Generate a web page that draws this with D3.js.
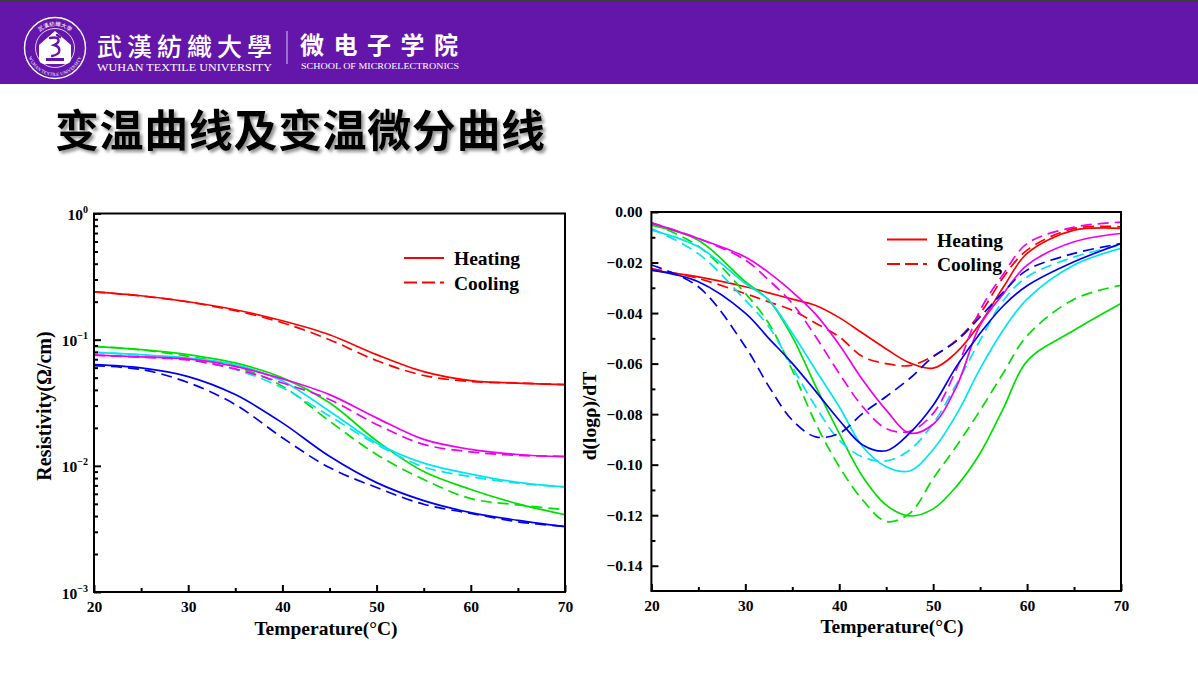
<!DOCTYPE html>
<html>
<head>
<meta charset="utf-8">
<title>变温曲线及变温微分曲线</title>
<script src="https://cdn.jsdelivr.net/npm/d3@7.9.0/dist/d3.min.js"></script>
<style>
  body { margin: 0; background: #fff; }
  svg { display: block; }
</style>
</head>
<body>
<svg id="slide" width="1198" height="674"></svg>
<script>
// values
const tempRho = [20, 25, 30, 35, 40, 45, 50, 55, 60, 65, 70];
const rhoRedHeat = [0.2394, 0.2228, 0.1998, 0.1726, 0.1413, 0.1095, 0.0761, 0.0558, 0.0474, 0.0453, 0.0441];
const rhoRedCool = [0.2394, 0.2220, 0.1990, 0.1695, 0.1363, 0.1000, 0.0683, 0.0520, 0.0466, 0.0453, 0.0441];
const rhoGreenHeat = [0.0885, 0.0834, 0.076, 0.0654, 0.0498, 0.0316, 0.0158, 0.0090, 0.0065, 0.0050, 0.0041];
const rhoGreenCool = [0.0885, 0.083, 0.0738, 0.0615, 0.0428, 0.0226, 0.0123, 0.0078, 0.0055, 0.0049, 0.0045];
const rhoCyanHeat = [0.0794, 0.076, 0.0716, 0.0634, 0.047, 0.0271, 0.0152, 0.0105, 0.0086, 0.0074, 0.0068];
const rhoCyanCool = [0.0794, 0.0755, 0.0695, 0.058, 0.0415, 0.0248, 0.0148, 0.0098, 0.0082, 0.0073, 0.0068];
const rhoMagentaHeat = [0.0755, 0.073, 0.0704, 0.0615, 0.0489, 0.0367, 0.024, 0.0162, 0.0135, 0.0123, 0.0118];
const rhoMagentaCool = [0.0755, 0.0725, 0.069, 0.0586, 0.0454, 0.0336, 0.0213, 0.0148, 0.0129, 0.0121, 0.0119];
const rhoBlueHeat = [0.0634, 0.0597, 0.0510, 0.0367, 0.0219, 0.0119, 0.00736, 0.0053, 0.00426, 0.0037, 0.0033];
const rhoBlueCool = [0.0622, 0.058, 0.0457, 0.0306, 0.0167, 0.00968, 0.00673, 0.00496, 0.0042, 0.0036, 0.0033];

const tempDer = [20, 25, 30, 32.5, 35, 37.5, 40, 42.5, 45, 47.5, 50, 52.5, 55, 57.5, 60, 65, 70];
const derRedHeat = [-0.023, -0.0257, -0.0296, -0.032, -0.0345, -0.0370, -0.0418, -0.0480, -0.0542, -0.0597, -0.0618, -0.0555, -0.0441, -0.0296, -0.0164, -0.0072, -0.0065];
const derRedCool = [-0.0224, -0.0263, -0.0323, -0.0356, -0.0389, -0.044, -0.0494, -0.0573, -0.0600, -0.0608, -0.057, -0.0507, -0.0402, -0.0257, -0.0151, -0.0065, -0.0059];
const derGreenHeat = [-0.0052, -0.0112, -0.0276, -0.0349, -0.0494, -0.069, -0.0876, -0.1048, -0.1160, -0.1203, -0.1175, -0.1085, -0.0955, -0.0775, -0.0590, -0.0468, -0.0362];
const derGreenCool = [-0.0045, -0.0135, -0.0322, -0.0441, -0.0626, -0.0837, -0.1008, -0.114, -0.1225, -0.1193, -0.1055, -0.0925, -0.0785, -0.0635, -0.0490, -0.0345, -0.029];
const derCyanHeat = [-0.0072, -0.0138, -0.0283, -0.0349, -0.048, -0.0626, -0.0771, -0.0929, -0.1008, -0.1025, -0.0940, -0.0800, -0.0620, -0.0465, -0.0345, -0.021, -0.0144];
const derCyanCool = [-0.0065, -0.0165, -0.0349, -0.0454, -0.0613, -0.0771, -0.0903, -0.097, -0.0985, -0.0942, -0.0837, -0.068, -0.0507, -0.0349, -0.0257, -0.0178, -0.0131];
const derMagentaHeat = [-0.0043, -0.0105, -0.0178, -0.024, -0.0316, -0.0405, -0.0525, -0.0665, -0.0784, -0.0875, -0.084, -0.069, -0.0448, -0.0322, -0.021, -0.0118, -0.0085];
const derMagentaCool = [-0.0043, -0.0105, -0.019, -0.027, -0.0362, -0.0494, -0.0639, -0.0771, -0.0857, -0.0868, -0.0797, -0.062, -0.0389, -0.0244, -0.0125, -0.006, -0.004];
const derBlueHeat = [-0.023, -0.0276, -0.040, -0.050, -0.0599, -0.071, -0.0824, -0.0922, -0.0945, -0.0875, -0.0765, -0.0610, -0.0480, -0.0370, -0.0292, -0.0197, -0.0125];
const derBlueCool = [-0.021, -0.0296, -0.0533, -0.069, -0.0824, -0.089, -0.0876, -0.0797, -0.073, -0.0659, -0.0573, -0.051, -0.0415, -0.0316, -0.023, -0.0164, -0.0125];

const tickTemps = [20, 30, 40, 50, 60, 70];
const minorTemps = [25, 35, 45, 55, 65];
const rhoDecades = [1e-3, 1e-2, 1e-1, 1];
const derTicks = [0, -0.02, -0.04, -0.06, -0.08, -0.10, -0.12, -0.14];
const derMinor = [-0.01, -0.03, -0.05, -0.07, -0.09, -0.11, -0.13];
const legendLabels = ["Heating", "Cooling"];

const seriesRho = [
  { color: "#ff0000", heat: rhoRedHeat, cool: rhoRedCool },
  { color: "#00e000", heat: rhoGreenHeat, cool: rhoGreenCool },
  { color: "#00e6f0", heat: rhoCyanHeat, cool: rhoCyanCool },
  { color: "#f000f0", heat: rhoMagentaHeat, cool: rhoMagentaCool },
  { color: "#0000f0", heat: rhoBlueHeat, cool: rhoBlueCool }
];
const seriesDer = [
  { color: "#ff0000", heat: derRedHeat, cool: derRedCool },
  { color: "#00e000", heat: derGreenHeat, cool: derGreenCool },
  { color: "#00e6f0", heat: derCyanHeat, cool: derCyanCool },
  { color: "#f000f0", heat: derMagentaHeat, cool: derMagentaCool },
  { color: "#0000f0", heat: derBlueHeat, cool: derBlueCool }
];

const W = 1198;
const serif = "'Liberation Serif', 'Times New Roman', serif";
const dash = "11,6";
const svg = d3.select("#slide");
const defs = svg.append("defs");

// ---------- header band ----------
svg.append("rect").attr("width", W).attr("height", 84).attr("fill", "#6415aa");
svg.append("rect").attr("width", W).attr("height", 1.5).attr("fill", "#3c3c3c");

let logo = svg.append("g").attr("transform", "translate(55,48)");
logo.append("circle").attr("r", 30.5).attr("fill", "none").attr("stroke", "#fff").attr("stroke-width", 1.4);
logo.append("circle").attr("r", 19.5).attr("fill", "none").attr("stroke", "#fff").attr("stroke-width", 0.8);
defs.append("path").attr("id", "ringTop").attr("d", "M -22,0 A 22,22 0 0 1 22,0");
defs.append("path").attr("id", "ringBot").attr("d", "M -27,0 A 27,27 0 0 0 27,0");
logo.append("text").attr("font-size", 5.5).attr("fill", "#fff").attr("font-family", "'Noto Sans CJK TC'")
  .append("textPath").attr("href", "#ringTop").attr("startOffset", "50%").attr("text-anchor", "middle")
  .text("武漢紡織大學");
logo.append("text").attr("font-size", 4.6).attr("fill", "#fff").attr("font-family", serif).attr("dy", 1)
  .append("textPath").attr("href", "#ringBot").attr("startOffset", "50%").attr("text-anchor", "middle")
  .text("WUHAN TEXTILE UNIVERSITY");
logo.append("path").attr("fill", "#fff")
  .attr("d", "M -16,-3 L 0,-17 L 16,-3 L 16,11 A 5,5 0 0 1 11,16 L -11,16 A 5,5 0 0 1 -16,11 Z");
logo.append("path").attr("fill", "none").attr("stroke", "#6415aa").attr("stroke-width", 2.4)
  .attr("stroke-linecap", "round")
  .attr("d", "M -5,-10 C 5,-12 6,-6 -1,-3 C 6,-1 7,6 -3,8 M 2,-13 L 5,-11");
logo.append("rect").attr("x", -9).attr("y", 10).attr("width", 18).attr("height", 3).attr("fill", "#6415aa");

svg.append("text").attr("x", 97).attr("y", 55.5).attr("fill", "#fff")
  .attr("font-family", "'Noto Sans CJK TC'").attr("font-size", 25).attr("font-weight", 500)
  .attr("textLength", 175).attr("lengthAdjust", "spacing").text("武漢紡織大學");
svg.append("text").attr("x", 97).attr("y", 71).attr("fill", "#fff")
  .attr("font-family", serif).attr("font-size", 10.5)
  .attr("textLength", 175).attr("lengthAdjust", "spacingAndGlyphs").text("WUHAN TEXTILE UNIVERSITY");
svg.append("line").attr("x1", 287).attr("x2", 287).attr("y1", 31).attr("y2", 64)
  .attr("stroke", "#d9c9f0").attr("stroke-width", 1);
svg.append("text").attr("x", 300).attr("y", 54).attr("fill", "#fff")
  .attr("font-family", "'Noto Sans CJK SC'").attr("font-size", 24).attr("font-weight", 700)
  .attr("textLength", 158).attr("lengthAdjust", "spacing").text("微电子学院");
svg.append("text").attr("x", 301).attr("y", 69).attr("fill", "#fff")
  .attr("font-family", serif).attr("font-size", 8.5)
  .attr("textLength", 158).attr("lengthAdjust", "spacingAndGlyphs").text("SCHOOL OF MICROELECTRONICS");

// ---------- slide title ----------
let shadow = defs.append("filter").attr("id", "shadow").attr("x", "-5%").attr("y", "-20%")
  .attr("width", "110%").attr("height", "140%");
shadow.append("feDropShadow").attr("dx", 2.5).attr("dy", 2.5).attr("stdDeviation", 1.5)
  .attr("flood-color", "#777").attr("flood-opacity", 0.8);
svg.append("text").attr("x", 55).attr("y", 147).attr("fill", "#000")
  .attr("font-family", "'Noto Sans CJK SC'").attr("font-size", 44).attr("font-weight", 700)
  .attr("textLength", 490).attr("lengthAdjust", "spacing").attr("filter", "url(#shadow)")
  .text("变温曲线及变温微分曲线");

// ---------- shared helpers ----------
function styleAxis(g) {
  g.select(".domain").remove();
  g.selectAll(".tick line").attr("stroke", "#000").attr("stroke-width", 2);
  g.selectAll(".tick text").attr("font-family", serif).attr("font-weight", "bold")
    .attr("font-size", 15.5).attr("fill", "#000");
}

function drawLegend(g, x, y) {
  legendLabels.forEach((label, i) => {
    let yy = y + i * 24.5;
    g.append("line").attr("x1", x).attr("x2", x + 40).attr("y1", yy).attr("y2", yy)
      .attr("stroke", "#ff0000").attr("stroke-width", 1.8)
      .attr("stroke-dasharray", i === 1 ? "13,5" : null);
    g.append("text").attr("x", x + 50).attr("y", yy + 7).attr("font-family", serif)
      .attr("font-weight", "bold").attr("font-size", 19.5).text(label);
  });
}

function drawCurves(g, list, temps, x, y, curve, clipId) {
  let line = d3.line().x((d, i) => x(temps[i])).y(d => y(d)).curve(curve);
  let lines = g.append("g").attr("clip-path", `url(#${clipId})`).attr("fill", "none");
  list.forEach(s => {
    lines.append("path").attr("d", line(s.cool)).attr("stroke", s.color)
      .attr("stroke-width", 1.7).attr("stroke-dasharray", dash);
    lines.append("path").attr("d", line(s.heat)).attr("stroke", s.color).attr("stroke-width", 1.7);
  });
}

// ---------- left chart: resistivity (log) ----------
const pL = { x0: 94, x1: 565, y0: 213.5, y1: 592 };
const xL = d3.scaleLinear().domain([20, 70]).range([pL.x0, pL.x1]);
const yL = d3.scaleLog().domain([1e-3, 1]).range([pL.y1, pL.y0]);
const minorRho = [];
[-3, -2, -1].forEach(p => { for (let k = 2; k <= 9; k++) minorRho.push(k * Math.pow(10, p)); });

defs.append("clipPath").attr("id", "clipL").append("rect")
  .attr("x", pL.x0).attr("y", pL.y0).attr("width", pL.x1 - pL.x0).attr("height", pL.y1 - pL.y0);

let gL = svg.append("g");
drawCurves(gL, seriesRho, tempRho, xL, yL, d3.curveCatmullRom.alpha(0.5), "clipL");

gL.append("g").attr("transform", `translate(0,${pL.y1})`)
  .call(d3.axisBottom(xL).tickValues(minorTemps).tickSize(-4).tickFormat(""))
  .call(styleAxis);
gL.append("g").attr("transform", `translate(0,${pL.y1})`)
  .call(d3.axisBottom(xL).tickValues(tickTemps).tickSize(-7).tickPadding(9).tickFormat(d3.format("d")))
  .call(styleAxis);
gL.append("g").attr("transform", `translate(${pL.x0},0)`)
  .call(d3.axisLeft(yL).tickValues(minorRho).tickSize(-4).tickFormat(""))
  .call(styleAxis);
let yAxL = gL.append("g").attr("transform", `translate(${pL.x0},0)`)
  .call(d3.axisLeft(yL).tickValues(rhoDecades).tickSize(-7).tickFormat(""))
  .call(styleAxis);
yAxL.selectAll(".tick").each(function (d) {
  let p = Math.round(Math.log10(d));
  let t = d3.select(this).append("text").attr("x", -6).attr("y", 6).attr("text-anchor", "end")
    .attr("font-family", serif).attr("font-weight", "bold").attr("fill", "#000");
  t.append("tspan").attr("font-size", 15.5).text("10");
  t.append("tspan").attr("font-size", 10).attr("dy", -7).text(p === 0 ? "0" : "\u2212" + Math.abs(p));
});

gL.append("rect").attr("x", pL.x0).attr("y", pL.y0).attr("width", pL.x1 - pL.x0)
  .attr("height", pL.y1 - pL.y0).attr("fill", "none").attr("stroke", "#000").attr("stroke-width", 2);
drawLegend(gL, 404, 258);

gL.append("text").attr("x", 326).attr("y", 635).attr("text-anchor", "middle")
  .attr("font-family", serif).attr("font-weight", "bold").attr("font-size", 19.5).text("Temperature(°C)");
gL.append("text").attr("transform", "translate(51,406) rotate(-90)").attr("text-anchor", "middle")
  .attr("font-family", serif).attr("font-weight", "bold").attr("font-size", 20).text("Resistivity(Ω/cm)");

// ---------- right chart: d(log rho)/dT ----------
const pR = { x0: 651.4, x1: 1121, y0: 212, y1: 591 };
const xR = d3.scaleLinear().domain([20, 70]).range([pR.x0, pR.x1]);
const yR = d3.scaleLinear().domain([-0.15, 0]).range([pR.y1, pR.y0]);

defs.append("clipPath").attr("id", "clipR").append("rect")
  .attr("x", pR.x0).attr("y", pR.y0).attr("width", pR.x1 - pR.x0).attr("height", pR.y1 - pR.y0);

let gR = svg.append("g");
drawCurves(gR, seriesDer, tempDer, xR, yR, d3.curveCatmullRom.alpha(0.5), "clipR");

gR.append("g").attr("transform", `translate(0,${pR.y1})`)
  .call(d3.axisBottom(xR).tickValues(minorTemps).tickSize(-4).tickFormat(""))
  .call(styleAxis);
gR.append("g").attr("transform", `translate(0,${pR.y1})`)
  .call(d3.axisBottom(xR).tickValues(tickTemps).tickSize(-7).tickPadding(9).tickFormat(d3.format("d")))
  .call(styleAxis);
gR.append("g").attr("transform", `translate(${pR.x0},0)`)
  .call(d3.axisLeft(yR).tickValues(derMinor).tickSize(-4).tickFormat(""))
  .call(styleAxis);
gR.append("g").attr("transform", `translate(${pR.x0},0)`)
  .call(d3.axisLeft(yR).tickValues(derTicks).tickSize(-7).tickPadding(9)
    .tickFormat(d => d === 0 ? "0.00" : "\u2212" + Math.abs(d).toFixed(2)))
  .call(styleAxis);

gR.append("rect").attr("x", pR.x0).attr("y", pR.y0).attr("width", pR.x1 - pR.x0)
  .attr("height", pR.y1 - pR.y0).attr("fill", "none").attr("stroke", "#000").attr("stroke-width", 2);
drawLegend(gR, 887, 239.5);

gR.append("text").attr("x", 892).attr("y", 633).attr("text-anchor", "middle")
  .attr("font-family", serif).attr("font-weight", "bold").attr("font-size", 19.5).text("Temperature(°C)");
gR.append("text").attr("transform", "translate(596,416) rotate(-90)").attr("text-anchor", "middle")
  .attr("font-family", serif).attr("font-weight", "bold").attr("font-size", 19.5).text("d(logρ)/dT");
</script>
</body>
</html>
